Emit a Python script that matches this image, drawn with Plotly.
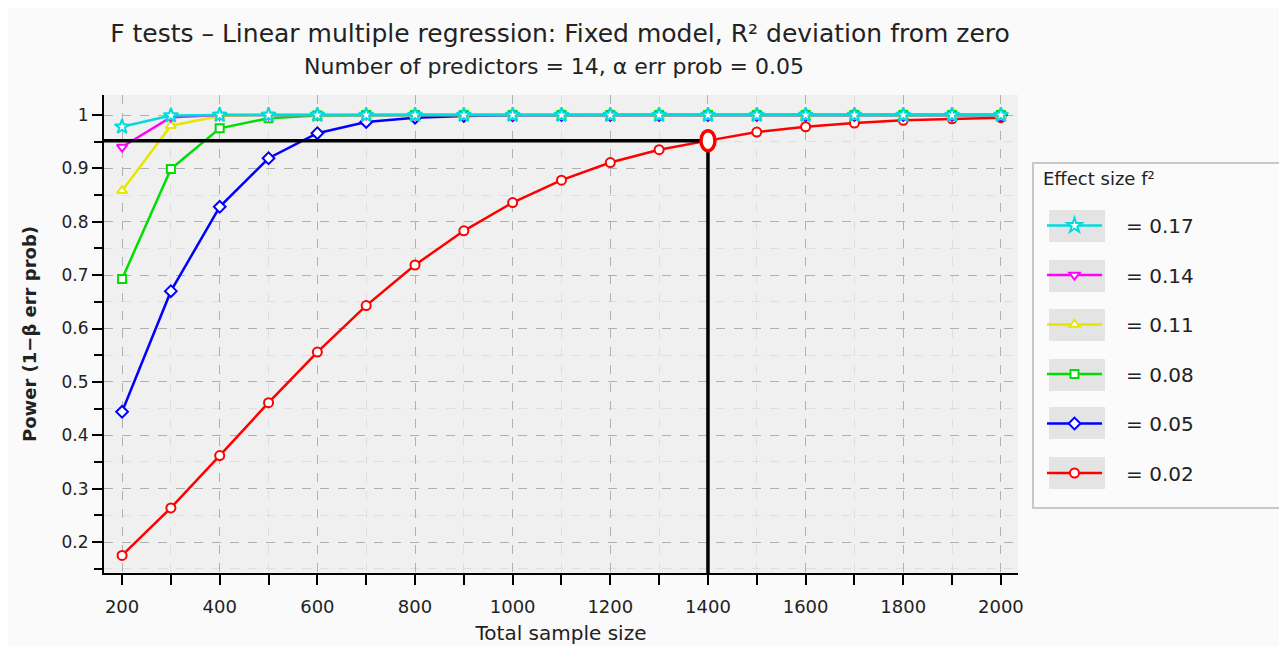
import plotly.graph_objects as go

sample_sizes = [200, 300, 400, 500, 600, 700, 800, 900, 1000, 1100, 1200, 1300, 1400, 1500, 1600, 1700, 1800, 1900, 2000]

power_002 = [0.175, 0.264, 0.362, 0.461, 0.556, 0.643, 0.719, 0.783, 0.836, 0.878, 0.911, 0.935, 0.952, 0.968, 0.978, 0.985, 0.990, 0.993, 0.995]
power_005 = [0.444, 0.670, 0.828, 0.919, 0.966, 0.987, 0.995, 0.998, 0.9995, 1, 1, 1, 1, 1, 1, 1, 1, 1, 1]
power_008 = [0.693, 0.899, 0.975, 0.994, 0.999, 1, 1, 1, 1, 1, 1, 1, 1, 1, 1, 1, 1, 1, 1]
power_011 = [0.858, 0.980, 0.998, 1, 1, 1, 1, 1, 1, 1, 1, 1, 1, 1, 1, 1, 1, 1, 1]
power_014 = [0.940, 0.996, 1, 1, 1, 1, 1, 1, 1, 1, 1, 1, 1, 1, 1, 1, 1, 1, 1]
power_017 = [0.978, 0.999, 1, 1, 1, 1, 1, 1, 1, 1, 1, 1, 1, 1, 1, 1, 1, 1, 1]

effect_labels = ["= 0.02", "= 0.05", "= 0.08", "= 0.11", "= 0.14", "= 0.17"]
series = [power_002, power_005, power_008, power_011, power_014, power_017]
colors = ["#ff0000", "#0000ff", "#00dd00", "#e6e600", "#ff00ff", "#00dcdc"]
symbols = ["circle", "diamond", "square", "triangle-up", "triangle-down", "star"]
sizes = [9, 9, 8, 9, 9, 11]

target_n = 1400
target_power = power_002[sample_sizes.index(target_n)]

x_range = [163, 2035]
y_range = [0.142, 1.0375]

FONT = "DejaVu Sans"
W, H = 1279, 638
ML, MR, MT, MB = 96, 269, 87, 73
PW, PH = W - ML - MR, H - MT - MB


def px_x(x):  # figure-pixel x -> paper x
    return (x - ML) / PW


def px_y(y):  # figure-pixel y -> paper y
    return (H - MB - y) / PH


fig = go.Figure()
n = len(effect_labels)
for i, (lab, ys, c, s, sz) in enumerate(zip(effect_labels, series, colors, symbols, sizes)):
    fig.add_trace(go.Scatter(
        x=sample_sizes, y=ys, name="   " + lab, mode="lines+markers", legendgroup=lab,
        legendrank=n - i,
        line=dict(color=c, width=2.5),
        marker=dict(symbol=s, size=sz, color="white", line=dict(color=c, width=2)),
    ))

shapes = [
    dict(type="line", xref="x", yref="y", x0=x_range[0], x1=target_n, y0=target_power, y1=target_power,
         line=dict(color="black", width=3.5), layer="above"),
    dict(type="line", xref="x", yref="y", x0=target_n, x1=target_n, y0=y_range[0], y1=target_power,
         line=dict(color="black", width=3.5), layer="above"),
    dict(type="circle", xref="x", yref="y", xsizemode="pixel", ysizemode="pixel",
         xanchor=target_n, yanchor=target_power, x0=-7, x1=7, y0=-10, y1=10,
         fillcolor="white", line=dict(color="#ff0000", width=3.5), layer="above"),
    # legend box
    dict(type="rect", xref="paper", yref="paper",
         x0=px_x(1025), x1=px_x(1273), y0=px_y(155), y1=px_y(500),
         fillcolor="#fbfbfb", line=dict(color="#c8c8c8", width=2), layer="below"),
]

# legend swatch backgrounds
item_y_px = [218, 268, 317, 367, 415, 465]
for ypx in item_y_px:
    shapes.append(dict(type="rect", xref="paper", yref="paper",
                       x0=px_x(1041), x1=px_x(1097),
                       y0=px_y(ypx + 16), y1=px_y(ypx - 16),
                       fillcolor="#e4e4e4", line=dict(width=0), layer="below"))

annotations = [
    dict(text="Number of predictors = 14, α err prob = 0.05", xref="paper", yref="paper",
         x=px_x(546), y=px_y(59), xanchor="center", yanchor="middle", showarrow=False,
         font=dict(size=22, family=FONT, color="#222222")),
    dict(text="Effect size f²", xref="paper", yref="paper",
         x=px_x(1033), y=px_y(170), xanchor="left", yanchor="middle", showarrow=False,
         font=dict(size=18, family=FONT, color="#222222")),
]

fig.update_layout(
    width=W, height=H,
    margin=dict(l=ML, r=MR, t=MT, b=MB),
    paper_bgcolor="#fafafa", plot_bgcolor="#f0f0f0",
    font=dict(family=FONT, color="#222222", size=15),
    title=dict(
        text="F tests – Linear multiple regression: Fixed model, R² deviation from zero",
        x=552 / W, xanchor="center", y=1 - 25 / H, yanchor="middle",
        font=dict(size=25, family=FONT, color="#222222"),
    ),
    xaxis=dict(
        range=x_range, tick0=200, dtick=200, showline=True, linecolor="black", linewidth=2,
        ticks="outside", ticklen=10, tickwidth=2, tickcolor="black", ticklabelstandoff=6,
        automargin=False,
        showgrid=True, gridcolor="#b0b0b0", griddash="dash", gridwidth=1, zeroline=False,
        minor=dict(dtick=100, tick0=200, ticks="outside", ticklen=10, tickwidth=2, tickcolor="black",
                   showgrid=True, gridcolor="#dedede", gridwidth=1),
        title=dict(text="Total sample size", font=dict(size=20), standoff=10),
        tickfont=dict(size=18),
    ),
    yaxis=dict(
        range=y_range, tick0=0.2, dtick=0.1, showline=True, linecolor="black", linewidth=2,
        ticks="outside", ticklen=10, tickwidth=2, tickcolor="black",
        automargin=False,
        showgrid=True, gridcolor="#b0b0b0", griddash="dash", gridwidth=1, zeroline=False,
        minor=dict(dtick=0.05, tick0=0.2, ticks="outside", ticklen=8, tickwidth=2, tickcolor="black",
                   showgrid=True, gridcolor="#dedede", gridwidth=1),
        title=dict(text="<b>Power (1−β err prob)</b>", font=dict(size=18), standoff=20),
        tickfont=dict(size=17),
    ),
    legend=dict(
        x=px_x(1034), xanchor="left", y=px_y(198), yanchor="top",
        bgcolor="rgba(0,0,0,0)", borderwidth=0,
        traceorder="grouped", tracegroupgap=20.5, itemwidth=55,
        font=dict(size=20), itemclick=False,
    ),
    shapes=shapes,
    annotations=annotations,
)

fig.write_html("out.html")
